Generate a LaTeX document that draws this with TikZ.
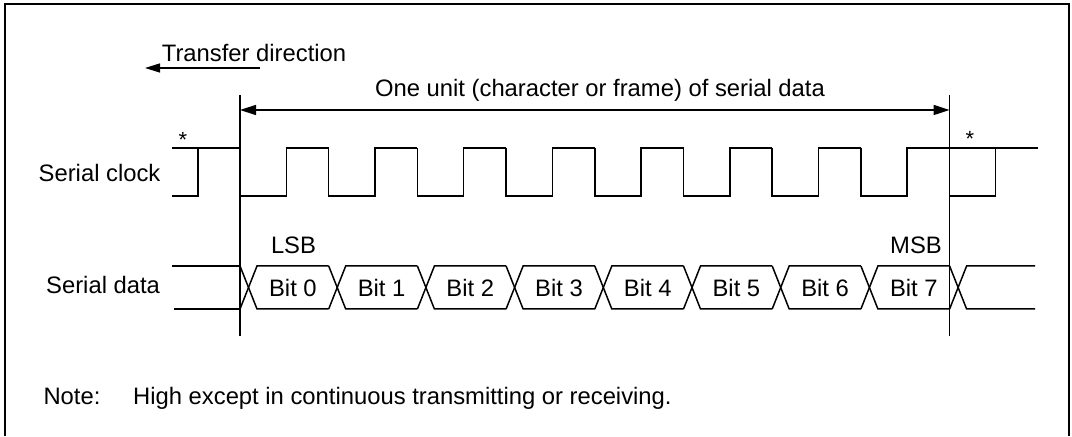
\documentclass[tikz,border=0pt]{standalone}
\usepackage{fontspec}
\setmainfont{Liberation Sans}
\usetikzlibrary{arrows.meta}
\newcommand{\lblfont}{\fontsize{23.8}{28}\selectfont}

\begin{document}
\begin{tikzpicture}[x=10pt,y=10pt,
  wave/.style={line width=1.5pt},
  lbl/.style={inner sep=0pt,font=\lblfont},
  tip/.style={-{Triangle[length=15pt,width=9pt]}}]
\useasboundingbox (0,0) rectangle (107.200,43.600);
\draw[line width=2pt] (0.500,0) -- (0.500,43.150) -- (106.900,43.150) -- (106.900,0);
% transfer direction
\node[lbl,anchor=base west] (tdir) at (16.170,37.430) {Transfer direction};
\coordinate (tdirR) at (26.000,36.800);
\coordinate (tdirL) at (14.500,36.800);
\draw[line width=1.4pt,tip] (tdirR) -- (tdirL);
% frame of one unit
\coordinate (uTopL) at (24.000,34.100);
\coordinate (uBotL) at (24.000,10.000);
\coordinate (uTopR) at (94.960,34.100);
\coordinate (uBotR) at (94.960,10.000);
\draw[line width=1.3pt] (uTopL) -- (uBotL);
\draw[line width=1.3pt] (uTopR) -- (uBotR);
\coordinate (uL) at (24.000,32.600);
\coordinate (uR) at (94.960,32.600);
\draw[line width=1.4pt,{Triangle[length=16pt,width=10pt]}-{Triangle[length=16pt,width=10pt]}] (uL) -- (uR);
\node[lbl,anchor=base] (unit) at (60.000,33.900) {One unit (character or frame) of serial data};
% signal names
\node[lbl,anchor=base west] (clk) at (3.850,25.450) {Serial clock};
\node[lbl,anchor=base west] (dat) at (4.600,14.200) {Serial data};
\node[lbl,anchor=base] (lsb) at (29.350,18.200) {LSB};
\node[lbl,anchor=base] (msb) at (91.600,18.200) {MSB};
\node[inner sep=0pt,font=\fontsize{22}{26}\selectfont] (star1) at (18.300,29.600) {*};
\node[inner sep=0pt,font=\fontsize{22}{26}\selectfont] (star2) at (97.000,29.700) {*};
% before the unit
\draw[wave] (17.200,28.800) -- (24.000,28.800);
\draw[wave] (17.200,24.000) -- (19.800,24.000) -- (19.800,28.800);
\draw[wave] (17.200,17.000) -- (24.000,17.000);
\draw[wave] (17.400,12.700) -- (24.000,12.700);
% bits
\begin{scope}[shift={(24.000,0.000)}]
\draw[wave] (0,28.800) -- (0,24.000) -- (4.630,24.000) -- (4.630,28.800) -- (8.870,28.800);
\draw[wave] (0,17.000) -- (1.700,12.700) -- (8.870,12.700);
\draw[wave] (0,12.700) -- (1.700,17.000) -- (8.870,17.000);
\node[lbl] (bit0) at (5.290,14.850) {Bit 0};
\end{scope}
\begin{scope}[shift={(32.870,0.000)}]
\draw[wave] (0,28.800) -- (0,24.000) -- (4.630,24.000) -- (4.630,28.800) -- (8.870,28.800);
\draw[wave] (0,17.000) -- (1.700,12.700) -- (8.870,12.700);
\draw[wave] (0,12.700) -- (1.700,17.000) -- (8.870,17.000);
\node[lbl] (bit1) at (5.290,14.850) {Bit 1};
\end{scope}
\begin{scope}[shift={(41.740,0.000)}]
\draw[wave] (0,28.800) -- (0,24.000) -- (4.630,24.000) -- (4.630,28.800) -- (8.870,28.800);
\draw[wave] (0,17.000) -- (1.700,12.700) -- (8.870,12.700);
\draw[wave] (0,12.700) -- (1.700,17.000) -- (8.870,17.000);
\node[lbl] (bit2) at (5.290,14.850) {Bit 2};
\end{scope}
\begin{scope}[shift={(50.610,0.000)}]
\draw[wave] (0,28.800) -- (0,24.000) -- (4.630,24.000) -- (4.630,28.800) -- (8.870,28.800);
\draw[wave] (0,17.000) -- (1.700,12.700) -- (8.870,12.700);
\draw[wave] (0,12.700) -- (1.700,17.000) -- (8.870,17.000);
\node[lbl] (bit3) at (5.290,14.850) {Bit 3};
\end{scope}
\begin{scope}[shift={(59.480,0.000)}]
\draw[wave] (0,28.800) -- (0,24.000) -- (4.630,24.000) -- (4.630,28.800) -- (8.870,28.800);
\draw[wave] (0,17.000) -- (1.700,12.700) -- (8.870,12.700);
\draw[wave] (0,12.700) -- (1.700,17.000) -- (8.870,17.000);
\node[lbl] (bit4) at (5.290,14.850) {Bit 4};
\end{scope}
\begin{scope}[shift={(68.350,0.000)}]
\draw[wave] (0,28.800) -- (0,24.000) -- (4.630,24.000) -- (4.630,28.800) -- (8.870,28.800);
\draw[wave] (0,17.000) -- (1.700,12.700) -- (8.870,12.700);
\draw[wave] (0,12.700) -- (1.700,17.000) -- (8.870,17.000);
\node[lbl] (bit5) at (5.290,14.850) {Bit 5};
\end{scope}
\begin{scope}[shift={(77.220,0.000)}]
\draw[wave] (0,28.800) -- (0,24.000) -- (4.630,24.000) -- (4.630,28.800) -- (8.870,28.800);
\draw[wave] (0,17.000) -- (1.700,12.700) -- (8.870,12.700);
\draw[wave] (0,12.700) -- (1.700,17.000) -- (8.870,17.000);
\node[lbl] (bit6) at (5.290,14.850) {Bit 6};
\end{scope}
\begin{scope}[shift={(86.090,0.000)}]
\draw[wave] (0,28.800) -- (0,24.000) -- (4.630,24.000) -- (4.630,28.800) -- (8.870,28.800);
\draw[wave] (0,17.000) -- (1.700,12.700) -- (8.870,12.700);
\draw[wave] (0,12.700) -- (1.700,17.000) -- (8.870,17.000);
\node[lbl] (bit7) at (5.290,14.850) {Bit 7};
\end{scope}
% after the unit
\begin{scope}[shift={(94.960,0.000)}]
\draw[wave] (0,28.800) -- (0,24.000) -- (4.600,24.000) -- (4.600,28.800);
\draw[wave] (0,28.800) -- (8.840,28.800);
\draw[wave] (0,17.000) -- (1.700,12.700) -- (8.540,12.700);
\draw[wave] (0,12.700) -- (1.700,17.000) -- (8.540,17.000);
\end{scope}
% note
\node[lbl,anchor=base west] (note) at (4.330,3.100) {Note:};
\node[lbl,anchor=base west] (notetext) at (13.300,3.100) {High except in continuous transmitting or receiving.};
\end{tikzpicture}
\end{document}
